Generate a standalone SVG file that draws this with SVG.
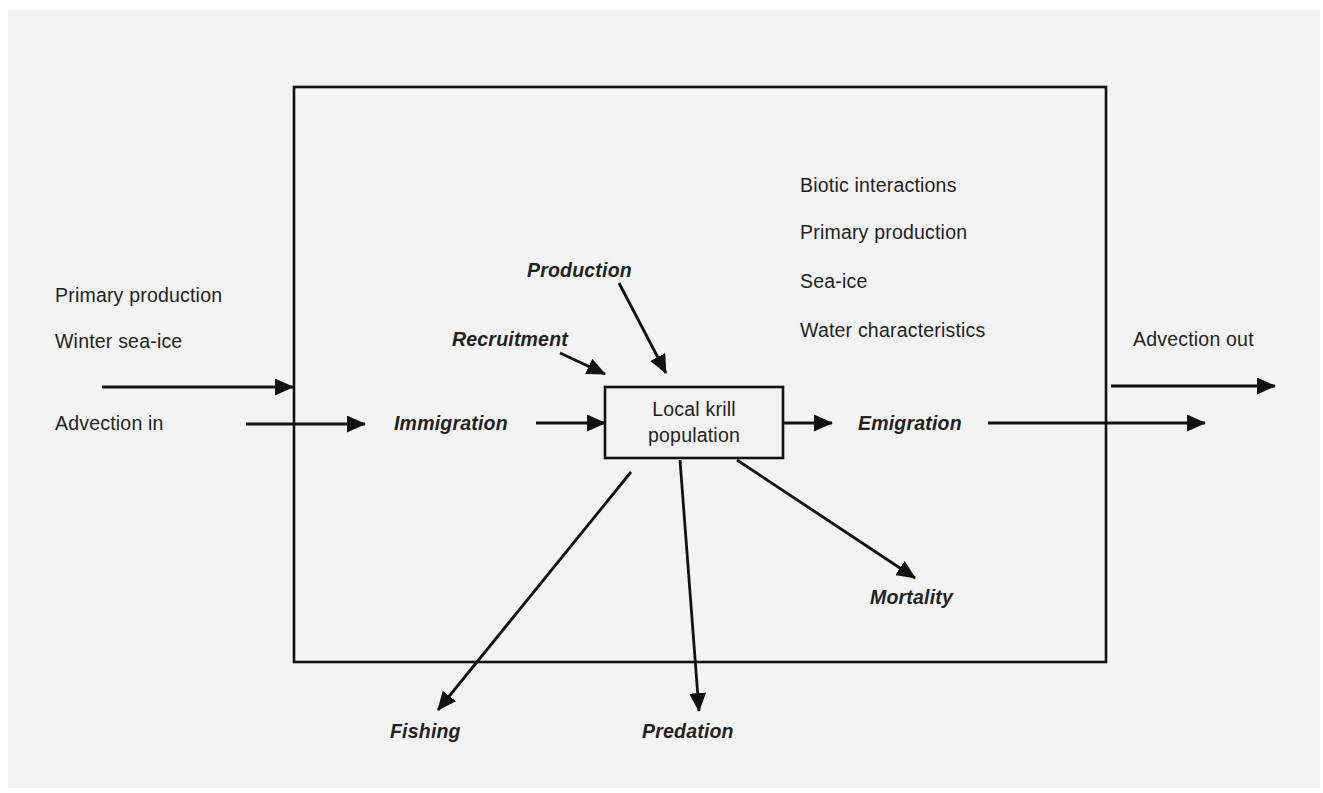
<svg xmlns="http://www.w3.org/2000/svg" width="1323" height="793" viewBox="0 0 1323 793">
  <style>
    .plain { font-family: "Liberation Sans", Arial, sans-serif; font-size: 19.5px; letter-spacing: 0.2px; fill: #222; }
    .flux { font-family: "Liberation Sans", Arial, sans-serif; font-size: 19.5px; letter-spacing: 0.2px; font-weight: bold; font-style: italic; fill: #222; }
    .frame { fill: none; stroke: #111; stroke-width: 2.6; }
    .arrow { fill: none; stroke: #111; stroke-width: 2.8; marker-end: url(#head); }
  </style>
  <defs>
    <marker id="head" markerUnits="userSpaceOnUse" markerWidth="19" markerHeight="17" refX="18" refY="8.5" orient="auto">
      <path d="M0,0 L19,8.5 L0,17 z" fill="#111"/>
    </marker>
  </defs>

  <!-- paper -->
  <rect x="0" y="0" width="1323" height="793" fill="#ffffff"/>
  <rect x="8" y="10" width="1312" height="778" fill="#f3f3f3"/>

  <!-- system boundary -->
  <g id="boundary">
    <rect class="frame" x="294" y="87" width="812" height="575"/>
  </g>

  <!-- external drivers -->
  <g id="inputs">
    <text class="plain" x="55" y="302">Primary production</text>
    <text class="plain" x="55" y="348">Winter sea-ice</text>
    <text class="plain" x="55" y="430">Advection in</text>
  </g>

  <g id="local-drivers">
    <text class="plain" x="800" y="192">Biotic interactions</text>
    <text class="plain" x="800" y="239">Primary production</text>
    <text class="plain" x="800" y="288">Sea-ice</text>
    <text class="plain" x="800" y="337">Water characteristics</text>
  </g>

  <g id="advection-out">
    <text class="plain" x="1133" y="346">Advection out</text>
  </g>

  <!-- central stock -->
  <g id="krill">
    <rect x="605" y="387" width="178" height="71" fill="none" stroke="#111" stroke-width="2.6"/>
    <text class="plain" x="694" y="416" text-anchor="middle">Local krill</text>
    <text class="plain" x="694" y="442" text-anchor="middle">population</text>
  </g>

  <!-- flux labels -->
  <g id="production"><text class="flux" x="527" y="277">Production</text></g>
  <g id="recruitment"><text class="flux" x="452" y="346">Recruitment</text></g>
  <g id="immigration"><text class="flux" x="394" y="430">Immigration</text></g>
  <g id="emigration"><text class="flux" x="858" y="430">Emigration</text></g>
  <g id="mortality"><text class="flux" x="870" y="604">Mortality</text></g>
  <g id="fishing"><text class="flux" x="390" y="738">Fishing</text></g>
  <g id="predation"><text class="flux" x="642" y="738">Predation</text></g>

  <!-- connectors -->
  <g id="connectors">
    <line class="arrow" x1="102" y1="387" x2="293" y2="387"/>
    <line class="arrow" x1="246" y1="424" x2="365" y2="424"/>
    <line class="arrow" x1="536" y1="423" x2="605" y2="423"/>
    <line class="arrow" x1="783" y1="423" x2="832" y2="423"/>
    <line class="arrow" x1="988" y1="423" x2="1205" y2="423"/>
    <line class="arrow" x1="1111" y1="386" x2="1275" y2="386"/>
    <line class="arrow" x1="619" y1="283" x2="666" y2="373"/>
    <line class="arrow" x1="560" y1="353" x2="605" y2="374"/>
    <line class="arrow" x1="631" y1="472" x2="438" y2="710"/>
    <line class="arrow" x1="680" y1="460" x2="699" y2="711"/>
    <line class="arrow" x1="737" y1="460" x2="915" y2="578"/>
  </g>
</svg>
